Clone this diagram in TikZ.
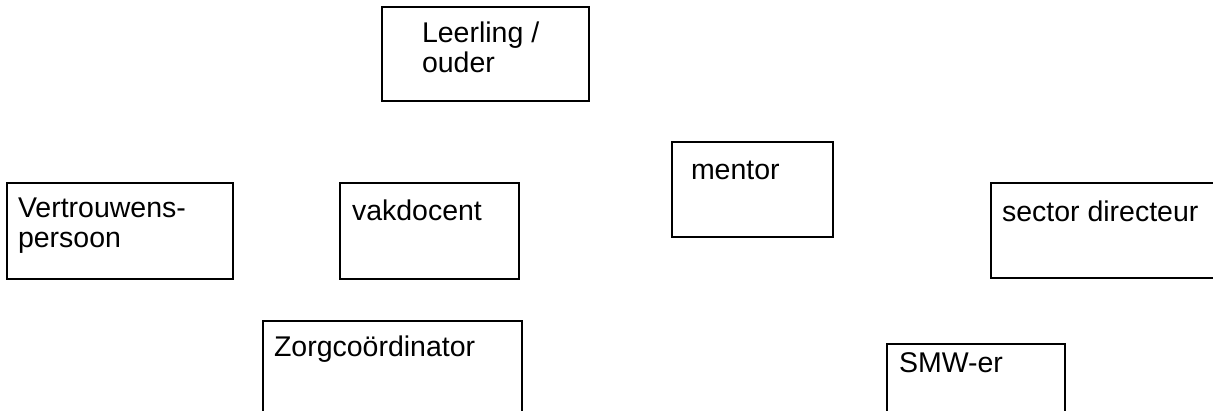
\documentclass[tikz,border=0pt]{standalone}
\usepackage{fontspec}
\setmainfont{Liberation Sans}
\usetikzlibrary{calc}
\begin{document}
\begin{tikzpicture}[x=1pt,y=-1pt,
  box/.style={draw=black,line width=1.6pt,rectangle,inner sep=0pt,outer sep=0pt,anchor=north west},
  txt/.style={font=\fontsize{28.5}{30}\selectfont,inner sep=0pt,outer sep=0pt,anchor=base west,align=left,text=black}]
\useasboundingbox (0,0) rectangle (1213,411);
\clip (0,0) rectangle (1213,411);
\node[box,minimum width=207pt,minimum height=94pt] (leer) at (382,7) {};
\node[box,minimum width=226pt,minimum height=96pt] (vert) at (7,183) {};
\node[box,minimum width=179pt,minimum height=96pt] (vak) at (340,183) {};
\node[box,minimum width=161pt,minimum height=95pt] (men) at (672,142) {};
\node[box,minimum width=240pt,minimum height=95pt] (sec) at (991,183) {};
\node[box,minimum width=259pt,minimum height=110pt] (zorg) at (263,321) {};
\node[box,minimum width=178pt,minimum height=90pt] (smw) at (887,344) {};
\node[txt] (tleer) at ($(leer.north west)+(40,66)$) {Leerling /\\ouder};
\node[txt] (tvert) at ($(vert.north west)+(11,65)$) {Vertrouwens-\\persoon};
\node[txt] (tvak) at ($(vak.north west)+(12,38)$) {vakdocent};
\node[txt] (tmen) at ($(men.north west)+(19,38)$) {mentor};
\node[txt] (tsec) at ($(sec.north west)+(11,39)$) {sector directeur};
\node[txt] (tzorg) at ($(zorg.north west)+(11,36)$) {Zorgcoördinator};
\node[txt] (tsmw) at ($(smw.north west)+(12,29)$) {SMW-er};
\end{tikzpicture}
\end{document}
